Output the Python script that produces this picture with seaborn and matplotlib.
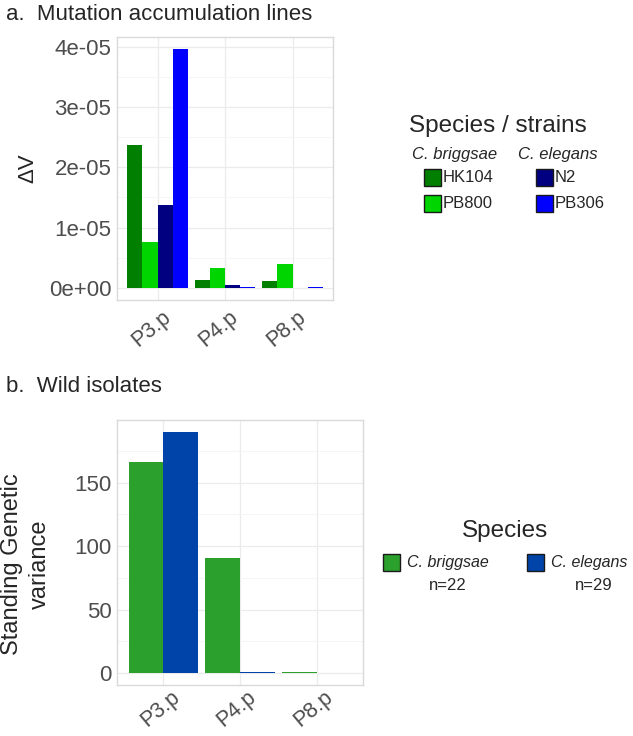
import matplotlib
matplotlib.use("Agg")
import matplotlib.pyplot as plt
import matplotlib.transforms as mtransforms
from matplotlib.patches import Rectangle
from matplotlib.ticker import FuncFormatter, MultipleLocator
import seaborn as sns
import pandas as pd

# data
cells = ["P3.p", "P4.p", "P8.p"]

strains = ["HK104", "PB800", "N2", "PB306"]
hk104_dv = [2.37e-05, 0.14e-05, 0.12e-05]
pb800_dv = [0.76e-05, 0.33e-05, 0.40e-05]
n2_dv = [1.37e-05, 0.055e-05, 0.0]
pb306_dv = [3.96e-05, 0.012e-05, 0.01e-05]
strain_colors = ["#007f00", "#00d500", "#000080", "#0000ff"]

species = ["C. briggsae", "C. elegans"]
species_n = ["n=22", "n=29"]
briggsae_vg = [166, 90.3, 0.4]
elegans_vg = [190, 0.9, 0.1]
species_colors = ["#2ca02c", "#0044aa"]

W, H, DPI = 633, 736, 100
FONT = ["Liberation Sans", "DejaVu Sans"]
TICK_GREY = "#4d4d4d"


def px(x, y):
    """pixel coords (from top-left) -> figure fraction"""
    return x / W, 1 - y / H


def style_axes(ax, ymax, major, minor, xpad, xshift):
    ax.set_xlim(-0.6, 2.6)
    ax.set_ylim(-0.05 * ymax, 1.05 * ymax)
    ax.yaxis.set_major_locator(MultipleLocator(major))
    ax.yaxis.set_minor_locator(MultipleLocator(minor))
    ax.set_axisbelow(True)
    ax.grid(True, which="major", color="#ebebeb", linewidth=0.9)
    ax.grid(True, which="minor", axis="y", color="#f4f4f4", linewidth=0.6)
    for s in ax.spines.values():
        s.set_color("#dadada")
        s.set_linewidth(1.0)
    ax.tick_params(which="both", length=0)
    ax.tick_params(axis="y", labelsize=16, labelcolor=TICK_GREY, pad=4)
    ax.tick_params(axis="x", labelsize=15.5, labelcolor=TICK_GREY, pad=xpad)
    ax.set_xlabel("")
    ax.set_ylabel("")
    if ax.get_legend() is not None:
        ax.get_legend().remove()
    # rotated labels, nudged like the reference
    shift = mtransforms.ScaledTranslation(xshift / DPI, 0, ax.figure.dpi_scale_trans)
    for lab in ax.get_xticklabels():
        lab.set_rotation(40)
        lab.set_ha("right")
        lab.set_va("top")
        lab.set_rotation_mode("anchor")
        lab.set_transform(lab.get_transform() + shift)


def key(fig, x, y, color, size=17):
    fx, fy = px(x, y + size / 2)
    fig.patches.append(Rectangle((fx, fy), size / W, size / H, transform=fig.transFigure,
                                 facecolor=color, edgecolor="#1a1a1a", linewidth=1.0))


def main():
    sns.set_theme(style="white")
    plt.rcParams["font.family"] = FONT

    fig = plt.figure(figsize=(W / DPI, H / DPI), dpi=DPI)

    # ---- panel a ----
    df_a = pd.DataFrame({
        "cell": cells * 4,
        "strain": sum([[s] * 3 for s in strains], []),
        "dv": hk104_dv + pb800_dv + n2_dv + pb306_dv,
    })
    ax1 = fig.add_axes([117 / W, 1 - 300 / H, 216 / W, 263 / H])
    sns.barplot(data=df_a, x="cell", y="dv", hue="strain", hue_order=strains,
                palette=strain_colors, width=0.9, gap=0, ax=ax1, errorbar=None,
                linewidth=0, saturation=1)
    style_axes(ax1, df_a["dv"].max(), 1e-05, 0.5e-05, xpad=5, xshift=4)
    ax1.yaxis.set_major_formatter(FuncFormatter(lambda v, p: f"{v:.0e}"))

    fig.text(*px(6, 14), "a.  Mutation accumulation lines", fontsize=16,
             ha="left", va="center")
    fig.text(*px(28, 168), "ΔV", fontsize=16, rotation=90, ha="center", va="center")

    # legend a
    fig.text(*px(498, 126), "Species / strains", fontsize=17.5, ha="center", va="center")
    col_x = [424, 536]
    row_y = [177, 203]
    fig.text(*px(455, 155), species[0], fontsize=12, style="italic", ha="center", va="center")
    fig.text(*px(558, 155), species[1], fontsize=12, style="italic", ha="center", va="center")
    for i, (s, c) in enumerate(zip(strains, strain_colors)):
        x = col_x[i // 2]
        y = row_y[i % 2]
        key(fig, x, y, c)
        fig.text(*px(x + 19, y), s, fontsize=12, ha="left", va="center")

    # ---- panel b ----
    df_b = pd.DataFrame({
        "cell": cells * 2,
        "species": [species[0]] * 3 + [species[1]] * 3,
        "vg": briggsae_vg + elegans_vg,
    })
    ax2 = fig.add_axes([117 / W, 1 - 685 / H, 246 / W, 265 / H])
    sns.barplot(data=df_b, x="cell", y="vg", hue="species", hue_order=species,
                palette=species_colors, width=0.9, gap=0, ax=ax2, errorbar=None,
                linewidth=0, saturation=1)
    style_axes(ax2, df_b["vg"].max(), 50, 25, xpad=1, xshift=7)

    fig.text(*px(6, 387), "b.  Wild isolates", fontsize=16, ha="left", va="center")
    fig.text(*px(26, 564), "Standing Genetic\nvariance", fontsize=17, rotation=90,
             ha="center", va="center", linespacing=1.3, multialignment="center")

    # legend b
    fig.text(*px(505, 531), "Species", fontsize=17.5, ha="center", va="center")
    for kx, lx, nx, sp, n, c in zip([383, 527], [407, 551], [448, 594],
                                    species, species_n, species_colors):
        key(fig, kx, 562, c)
        fig.text(*px(lx, 562), sp, fontsize=11.5, style="italic", ha="left", va="center")
        fig.text(*px(nx, 585), n, fontsize=12, ha="center", va="center")

    fig.savefig("out.png", dpi=DPI, facecolor="white")
    plt.close(fig)


if __name__ == "__main__":
    main()
